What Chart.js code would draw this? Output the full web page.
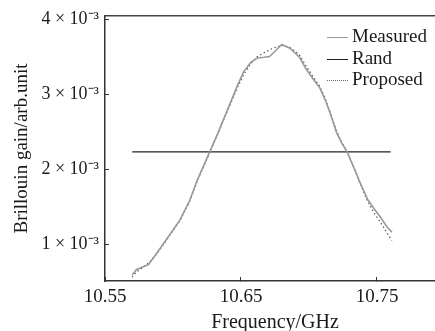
<!DOCTYPE html>
<html>
<head>
<meta charset="utf-8">
<script src="https://cdn.jsdelivr.net/npm/chart.js@4/dist/chart.umd.min.js"></script>
<style>
  html, body { margin: 0; padding: 0; background: #fff; overflow: hidden; }
  #wrap { position: relative; width: 450px; height: 331px; }
  #legend { position: absolute; left: 327px; top: 25px; font-family: "Liberation Serif", serif; font-size: 19px; color: #1a1a1a; }
  #legend div { height: 21.5px; line-height: 21.5px; white-space: nowrap; }
  #legend span.s { display: inline-block; width: 21px; margin-right: 4px; vertical-align: middle; }
</style>
</head>
<body>
<div id="wrap">
  <canvas id="chart" width="450" height="331"></canvas>
  <div id="legend">
    <div><span class="s" style="border-top:1.5px solid #9a9a9a"></span>Measured</div>
    <div><span class="s" style="border-top:1.5px solid #222"></span>Rand</div>
    <div><span class="s" style="border-top:1.5px dotted #666"></span>Proposed</div>
  </div>
</div>
<script>
// 주파수 (GHz)
const freq = [10.570, 10.573, 10.578, 10.582, 10.588, 10.595, 10.605, 10.612, 10.618, 10.627,
              10.633, 10.638, 10.643, 10.647, 10.652, 10.657, 10.662, 10.667, 10.671, 10.675,
              10.680, 10.686, 10.693, 10.698, 10.703, 10.708, 10.712, 10.716, 10.720, 10.724,
              10.728, 10.733, 10.738, 10.743, 10.748, 10.753, 10.757, 10.761];
// 측정값 (x 10^-3)
const measured = [0.59, 0.66, 0.70, 0.73, 0.88, 1.06, 1.32, 1.57, 1.86, 2.23,
                  2.48, 2.70, 2.92, 3.10, 3.30, 3.42, 3.48, 3.49, 3.50, 3.57,
                  3.66, 3.61, 3.49, 3.33, 3.20, 3.08, 2.92, 2.72, 2.50, 2.35,
                  2.23, 2.02, 1.80, 1.60, 1.47, 1.35, 1.24, 1.16];
// 제안 방법 (x 10^-3)
const proposed = [0.56, 0.63, 0.69, 0.75, 0.87, 1.05, 1.31, 1.56, 1.85, 2.22,
                  2.47, 2.69, 2.90, 3.07, 3.26, 3.40, 3.50, 3.55, 3.59, 3.62,
                  3.65, 3.62, 3.52, 3.37, 3.23, 3.10, 2.94, 2.74, 2.52, 2.36,
                  2.23, 2.02, 1.79, 1.58, 1.41, 1.28, 1.16, 1.05];
// Rand (수평선)
const randFreq = [10.57, 10.76];
const randGain = [2.23, 2.23];

const xTicks = [10.55, 10.65, 10.75];
const yTicks = [1, 2, 3, 4];

const toPts = (xs, ys) => xs.map((x, i) => ({x: x, y: ys[i]}));
const serif = "'Liberation Serif', 'Times New Roman', serif";
const ink = "#1a1a1a";

new Chart(document.querySelector("#chart"), {
    type: "line",
    data: {
        datasets: [
            {label: "Measured", data: toPts(freq, measured), borderColor: "#9a9a9a", borderWidth: 1.6},
            {label: "Rand", data: toPts(randFreq, randGain), borderColor: "#222", borderWidth: 1.2},
            {label: "Proposed", data: toPts(freq, proposed), borderColor: "#555", borderWidth: 1.2, borderDash: [1.5, 2.5]},
        ],
    },
    options: {
        animation: false,
        responsive: false,
        devicePixelRatio: 1,
        layout: {padding: {top: 16, right: 5, left: 0, bottom: 0}},
        elements: {point: {radius: 0}, line: {tension: 0}},
        plugins: {legend: {display: false}, tooltip: {enabled: false}},
        scales: {
            x: {
                type: "linear", min: 10.55, max: 10.80,
                afterBuildTicks: s => { s.ticks = xTicks.map(v => ({value: v})); },
                afterFit: s => { s.height = 50; s.paddingLeft = 0; s.paddingRight = 0; },
                grid: {drawOnChartArea: false, tickLength: -4, color: "#333", lineWidth: 1},
                border: {color: "#333", width: 1.5},
                ticks: {padding: 9, color: ink, font: {family: serif, size: 19}, callback: v => v.toFixed(2)},
                title: {display: true, text: "Frequency/GHz", color: ink, font: {family: serif, size: 20, lineHeight: 1}, padding: {top: 0, bottom: -2}},
            },
            x2: {
                type: "linear", position: "top", min: 10.55, max: 10.80,
                afterFit: s => { s.height = 0; s.paddingLeft = 0; s.paddingRight = 0; },
                grid: {display: false},
                border: {color: "#444", width: 1.5},
                ticks: {display: false},
            },
            y: {
                type: "linear", min: 0.51, max: 4.04,
                afterBuildTicks: s => { s.ticks = yTicks.map(v => ({value: v})); },
                afterFit: s => { s.width = 105; s.paddingTop = 0; s.paddingBottom = 0; },
                grid: {drawOnChartArea: false, tickLength: -4, color: "#333", lineWidth: 1},
                border: {color: "#333", width: 1.5},
                ticks: {padding: 10, color: ink, font: {family: serif, size: 18}, callback: v => v + " × 10⁻³"},
                title: {display: true, text: "Brillouin gain/arb.unit", color: ink, font: {family: serif, size: 19, lineHeight: 1}, padding: {top: 13}},
            },
        },
    },
});
</script>
</body>
</html>
